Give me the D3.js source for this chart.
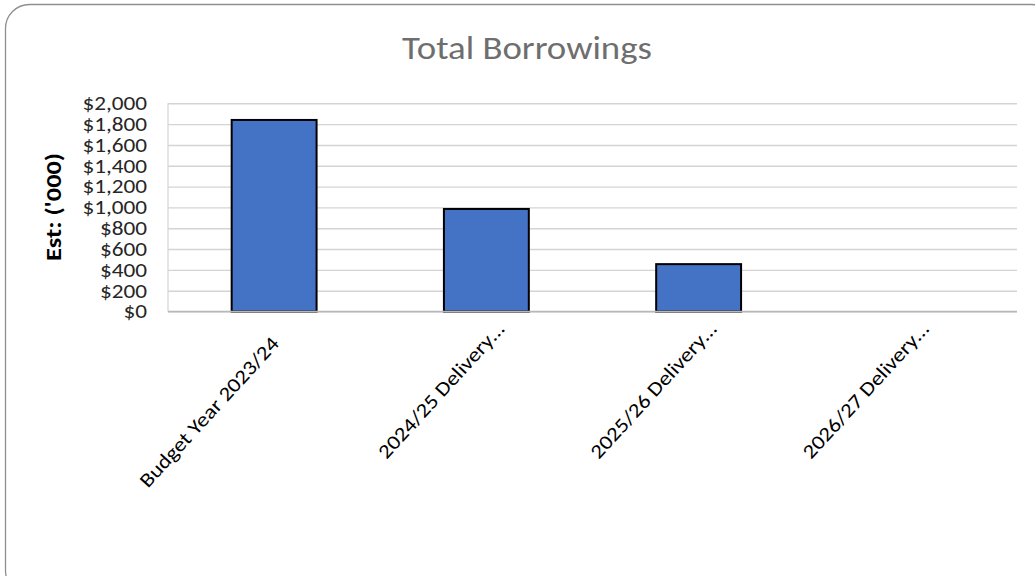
<!DOCTYPE html>
<html>
<head>
<meta charset="utf-8">
<script src="https://cdn.jsdelivr.net/npm/d3@7"></script>
<style>
  html, body { margin: 0; padding: 0; background: #ffffff; }
  svg { display: block; }
</style>
</head>
<body>
<svg id="chart" width="1035" height="576"></svg>
<script>
// ---- data ----
const categories = ["Budget Year 2023/24", "2024/25 Delivery\u2026", "2025/26 Delivery\u2026", "2026/27 Delivery\u2026"];
const values = [1840, 985, 455, 0];
const yTicks = [0, 200, 400, 600, 800, 1000, 1200, 1400, 1600, 1800, 2000];
const chartTitle = "Total Borrowings";
const yAxisTitle = "Est: ('000)";

// ---- layout ----
const W = 1035, H = 576;
const plot = { left: 168, right: 1017, top: 103.3, bottom: 311.5 };
const FONT = "Carlito, 'Liberation Sans', Arial, sans-serif";

const svg = d3.select("#chart");

// chart area border (rounded, extends past right/bottom edge)
svg.append("rect")
  .attr("x", 5.5).attr("y", 4.5)
  .attr("width", 1050).attr("height", 590)
  .attr("rx", 24).attr("ry", 24)
  .attr("fill", "#ffffff")
  .attr("stroke", "#8f8f8f")
  .attr("stroke-width", 1.3);

// scales
const x = d3.scaleBand()
  .domain(categories)
  .range([plot.left, plot.right])
  .paddingInner(0.6)
  .paddingOuter(0.3);

const y = d3.scaleLinear()
  .domain([0, 2000])
  .range([plot.bottom, plot.top]);

// gridlines
const grid = svg.append("g")
  .attr("transform", `translate(${plot.left},0)`)
  .call(d3.axisLeft(y).tickValues(yTicks).tickSize(-(plot.right - plot.left)).tickFormat(""));
grid.select(".domain").remove();
grid.selectAll(".tick line")
  .attr("stroke", "#d4d4d4")
  .attr("stroke-width", 1.4);

// left vertical line of value axis
svg.append("line")
  .attr("x1", plot.left).attr("x2", plot.left)
  .attr("y1", plot.top).attr("y2", plot.bottom)
  .attr("stroke", "#d4d4d4").attr("stroke-width", 1.2);

// y tick labels
const yAxis = svg.append("g")
  .attr("transform", `translate(${plot.left},0)`)
  .call(d3.axisLeft(y).tickValues(yTicks).tickSize(0).tickPadding(21)
    .tickFormat(d => "$" + d3.format(",")(d)));
yAxis.select(".domain").remove();
yAxis.selectAll("text")
  .attr("font-family", FONT)
  .attr("font-size", 20)
  .attr("fill", "#262626")
  .attr("x", 0)
  .attr("transform", "translate(-21,0) scale(1.16,1)");

// bars
svg.append("g").selectAll("rect")
  .data(values)
  .join("rect")
  .attr("x", (d, i) => x(categories[i]))
  .attr("width", x.bandwidth())
  .attr("y", d => y(d))
  .attr("height", d => y(0) - y(d))
  .attr("fill", "#4472C4")
  .attr("stroke", d => d > 0 ? "#000000" : "none")
  .attr("stroke-width", 2);

// category axis line
svg.append("line")
  .attr("x1", plot.left).attr("x2", plot.right)
  .attr("y1", plot.bottom).attr("y2", plot.bottom)
  .attr("stroke", "#b8b8b8").attr("stroke-width", 1.4);

// x labels (rotated)
const xAxis = svg.append("g")
  .attr("transform", `translate(0,${plot.bottom})`)
  .call(d3.axisBottom(x).tickSize(0).tickPadding(0));
xAxis.select(".domain").remove();
xAxis.selectAll("text")
  .attr("font-family", FONT)
  .attr("font-size", 20)
  .attr("fill", "#000000")
  .attr("text-anchor", "end")
  .attr("dy", 0)
  .attr("y", 0)
  .attr("x", d => d.endsWith("\u2026") ? 17 : 0)
  .attr("transform", "translate(6,33) rotate(-47.5) scale(1.15,1)");

// title
svg.append("text")
  .attr("text-anchor", "middle")
  .attr("transform", "translate(527,59) scale(1.15,1)")
  .attr("font-family", FONT)
  .attr("font-size", 32)
  .attr("fill", "#6e6e6e")
  .text(chartTitle);

// y axis title
svg.append("text")
  .attr("transform", "translate(61,207) rotate(-90) scale(1.2,1)")
  .attr("text-anchor", "middle")
  .attr("font-family", FONT)
  .attr("font-size", 22)
  .attr("font-weight", "bold")
  .attr("fill", "#000000")
  .text(yAxisTitle);
</script>
</body>
</html>
